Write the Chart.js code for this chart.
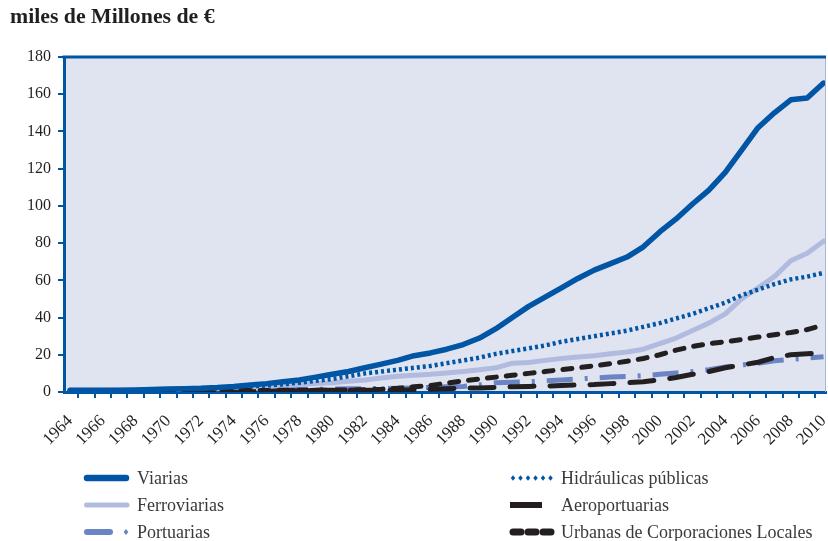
<!DOCTYPE html>
<html><head><meta charset="utf-8">
<script src="https://cdn.jsdelivr.net/npm/chart.js@4.4.1/dist/chart.umd.min.js"></script>
<style>
html,body{margin:0;padding:0;background:#fff;}
#wrap{position:relative;width:828px;height:541px;overflow:hidden;font-family:"Liberation Serif","Times New Roman",serif;color:#231f20;}
#c{position:absolute;left:0;top:0;}
#title{position:absolute;left:10px;top:6px;font-weight:bold;font-size:21.8px;line-height:1;white-space:nowrap;color:#231f20;}
.leg{position:absolute;height:20px;display:flex;align-items:center;}
.leg svg{flex:none;display:block;}
.leg span{display:inline-block;font-size:18px;line-height:20px;white-space:nowrap;color:#3a3a3a;}
</style></head>
<body><div id="wrap">
<canvas id="c" width="828" height="541"></canvas>
<div id="title">miles de Millones de €</div>
<div id="legend"></div>
</div>
<script>
// ---- DATA ----
const years = [1964,1965,1966,1967,1968,1969,1970,1971,1972,1973,1974,1975,1976,1977,1978,1979,1980,1981,1982,1983,1984,1985,1986,1987,1988,1989,1990,1991,1992,1993,1994,1995,1996,1997,1998,1999,2000,2001,2002,2003,2004,2005,2006,2007,2008,2009,2010];
const yTicks = [0,20,40,60,80,100,120,140,160,180];

const viarias = [1.0,1.0,1.0,1.0,1.1,1.3,1.6,1.8,2.0,2.4,3.0,3.8,4.5,5.5,6.5,8.0,9.5,11.0,13.0,15.0,17.0,19.5,21.0,23.0,25.5,29.0,34.0,40.0,46.0,51.0,56.0,61.0,65.5,69.0,72.5,78.0,86.0,93.0,101.0,108.5,118.0,130.0,142.0,150.0,157.0,158.0,166.0];
const hidraulicas = [0.5,0.6,0.7,0.8,1.0,1.1,1.3,1.5,1.7,2.0,2.5,3.0,3.5,4.2,5.0,6.0,7.0,8.5,10.0,11.0,12.0,13.0,14.0,15.5,17.0,18.5,20.5,22.0,23.5,25.0,27.0,28.5,30.0,31.5,33.0,35.0,37.0,39.5,42.0,45.0,48.0,52.0,55.0,58.0,60.5,62.0,64.0];
const ferroviarias = [1.0,1.0,1.0,1.1,1.2,1.3,1.5,1.7,2.0,2.2,2.5,2.8,3.0,3.5,4.0,4.5,5.0,5.8,6.5,7.5,8.5,9.0,9.5,10.2,11.0,12.0,13.0,15.5,15.8,17.0,18.0,18.8,19.5,20.5,21.5,23.0,26.0,29.0,33.0,37.0,42.0,50.0,56.0,62.0,70.5,74.5,81.0];
const aeroportuarias = [0.5,0.5,0.5,0.5,0.5,0.5,0.5,0.6,0.6,0.6,0.7,0.7,0.8,0.8,0.8,0.9,0.9,0.9,1.0,1.0,1.0,1.2,1.5,1.8,2.0,2.2,2.5,2.8,3.0,3.2,3.5,3.8,4.0,4.5,5.0,5.5,6.5,7.8,9.5,11.0,13.0,14.5,16.0,18.5,20.0,20.5,21.0];
const portuarias = [0.5,0.5,0.6,0.6,0.7,0.7,0.8,0.8,0.9,1.0,1.0,1.1,1.2,1.3,1.4,1.5,1.6,1.7,1.8,1.9,2.0,2.2,2.5,2.8,3.0,3.8,5.0,5.3,5.5,6.0,6.5,7.0,7.5,8.0,8.3,8.8,9.5,10.2,11.0,12.0,13.5,14.5,15.5,16.8,17.5,18.3,19.0];
const urbanas = [0.5,0.5,0.5,0.5,0.6,0.6,0.6,0.6,0.7,0.7,0.7,0.8,0.8,0.9,1.0,1.0,1.0,1.1,1.2,1.5,2.0,2.8,3.5,4.8,6.0,7.0,8.0,9.0,10.0,11.0,12.0,13.0,14.0,15.2,16.5,18.0,20.0,22.5,24.5,26.0,27.0,28.2,29.5,30.8,32.0,33.5,36.0];

const seriesNames = ["Viarias","Hidráulicas públicas","Ferroviarias","Aeroportuarias","Portuarias","Urbanas de Corporaciones Locales"];
const seriesData = [viarias, hidraulicas, ferroviarias, aeroportuarias, portuarias, urbanas];

// ---- STYLES ----
const BLUE = '#0055a4', LIGHT = '#b1bbdf', MID = '#6a84c4', BLACK = '#231f20';
const styles = [
  {color:BLUE,  width:5.5, dash:[],            cap:'round', order:0},
  {color:BLUE,  width:4.5, dash:[3,3],         cap:'butt',  order:2},
  {color:LIGHT, width:5,   dash:[],            cap:'round', order:3},
  {color:BLACK, width:5,   dash:[24,16],       cap:'round', order:4},
  {color:MID,   width:5,   dash:[26,12,3,12],  cap:'butt',  order:5},
  {color:BLACK, width:5,   dash:[9,10],        cap:'round', order:1}
];

const datasets = seriesNames.map((n,i)=>({
  label:n, data:seriesData[i],
  borderColor:styles[i].color, borderWidth:styles[i].width,
  borderDash:styles[i].dash, borderCapStyle:styles[i].cap, borderJoinStyle:'round',
  pointRadius:0, tension:0, fill:false, order:styles[i].order
}));

const framePlugin = {
  id:'frame',
  beforeDraw(chart){
    const {ctx, chartArea:a} = chart;
    ctx.save();
    ctx.fillStyle = '#e0e4f1';
    ctx.fillRect(a.left, a.top, a.right-a.left, a.bottom-a.top);
    ctx.restore();
  },
  afterDraw(chart){
    const {ctx, chartArea:a} = chart;
    ctx.save();
    ctx.strokeStyle = '#a9b5d9'; ctx.lineWidth = 1;
    ctx.beginPath(); ctx.moveTo(a.right-0.5, a.top); ctx.lineTo(a.right-0.5, a.bottom); ctx.stroke();
    ctx.strokeStyle = BLUE; ctx.lineWidth = 3;
    ctx.beginPath(); ctx.moveTo(a.left-1.5, a.top); ctx.lineTo(a.right, a.top); ctx.stroke();
    ctx.restore();
  }
};

const FONT = '"Liberation Serif","Times New Roman",serif';
new Chart(document.getElementById('c'), {
  type:'line',
  data:{labels:years, datasets},
  plugins:[framePlugin],
  options:{
    responsive:false, animation:false, devicePixelRatio:1,
    layout:{padding:{left:0,right:2,top:57,bottom:86}},
    plugins:{legend:{display:false}, tooltip:{enabled:false}, title:{display:false}},
    scales:{
      x:{
        type:'linear', min:1963.63, max:2010.15,
        afterBuildTicks:s=>{ s.ticks = years.map(v=>({value:v})); },
        afterFit:s=>{ s.height = 63; s.paddingLeft = 0; s.paddingRight = 0; },
        ticks:{autoSkip:false, maxRotation:45, minRotation:45, padding:13, color:BLACK,
          font:{family:FONT, size:17},
          callback:(v)=> (v % 2 === 0 ? String(v) : '')},
        grid:{offset:true, drawOnChartArea:false, drawTicks:true, tickLength:6, color:BLUE, lineWidth:2},
        border:{display:true, color:BLUE, width:3}
      },
      y:{
        min:0, max:180,
        afterBuildTicks:s=>{ s.ticks = yTicks.map(v=>({value:v})); },
        afterFit:s=>{ s.width = 64; s.paddingTop = 0; s.paddingBottom = 0; },
        ticks:{padding:7, color:BLACK, font:{family:FONT, size:16}},
        grid:{drawOnChartArea:false, drawTicks:true, tickLength:6, color:BLUE, lineWidth:2},
        border:{display:true, color:BLUE, width:3}
      }
    }
  }
});

// ---- HTML legend ----
const legendPos = [
  {left:82,  top:468, sw:50, gap:5},
  {left:508, top:468, sw:49, gap:4},
  {left:82,  top:495, sw:50, gap:5},
  {left:508, top:495, sw:49, gap:4},
  {left:82,  top:522, sw:50, gap:5},
  {left:508, top:522, sw:49, gap:4}
];
function diamond(cx, r, c){
  return `<path d="M${cx} ${6-r} L${cx+r*0.8} 6 L${cx} ${6+r} L${cx-r*0.8} 6 Z" fill="${c}"/>`;
}
function swatch(i, w){
  const s = styles[i];
  let inner = '';
  if(i===0) inner = `<line x1="5" y1="6" x2="44" y2="6" stroke="${s.color}" stroke-width="6.5" stroke-linecap="round"/>`;
  else if(i===2) inner = `<line x1="4.5" y1="6" x2="45" y2="6" stroke="${s.color}" stroke-width="5" stroke-linecap="round"/>`;
  else if(i===4) inner = `<line x1="5" y1="6" x2="28" y2="6" stroke="${s.color}" stroke-width="6" stroke-linecap="round"/>` + diamond(44, 3, s.color);
  else if(i===1) inner = [5,12.5,20,27.5,35,42.5].map(c=>diamond(c, 2.8, s.color)).join('');
  else if(i===3) inner = `<line x1="2" y1="6" x2="34" y2="6" stroke="${s.color}" stroke-width="6"/>`;
  else if(i===5) inner = [9,24,39].map(c=>`<line x1="${c-4}" y1="6" x2="${c+4}" y2="6" stroke="${s.color}" stroke-width="7" stroke-linecap="round"/>`).join('');
  return `<svg width="${w}" height="12" viewBox="0 0 ${w} 12">${inner}</svg>`;
}
const lg = document.getElementById('legend');
seriesNames.forEach((n,i)=>{
  const p = legendPos[i];
  const d = document.createElement('div');
  d.className = 'leg';
  d.style.left = p.left+'px'; d.style.top = p.top+'px';
  d.innerHTML = swatch(i, p.sw) + `<span style="margin-left:${p.gap}px">${n}</span>`;
  lg.appendChild(d);
});
</script>
</body></html>
